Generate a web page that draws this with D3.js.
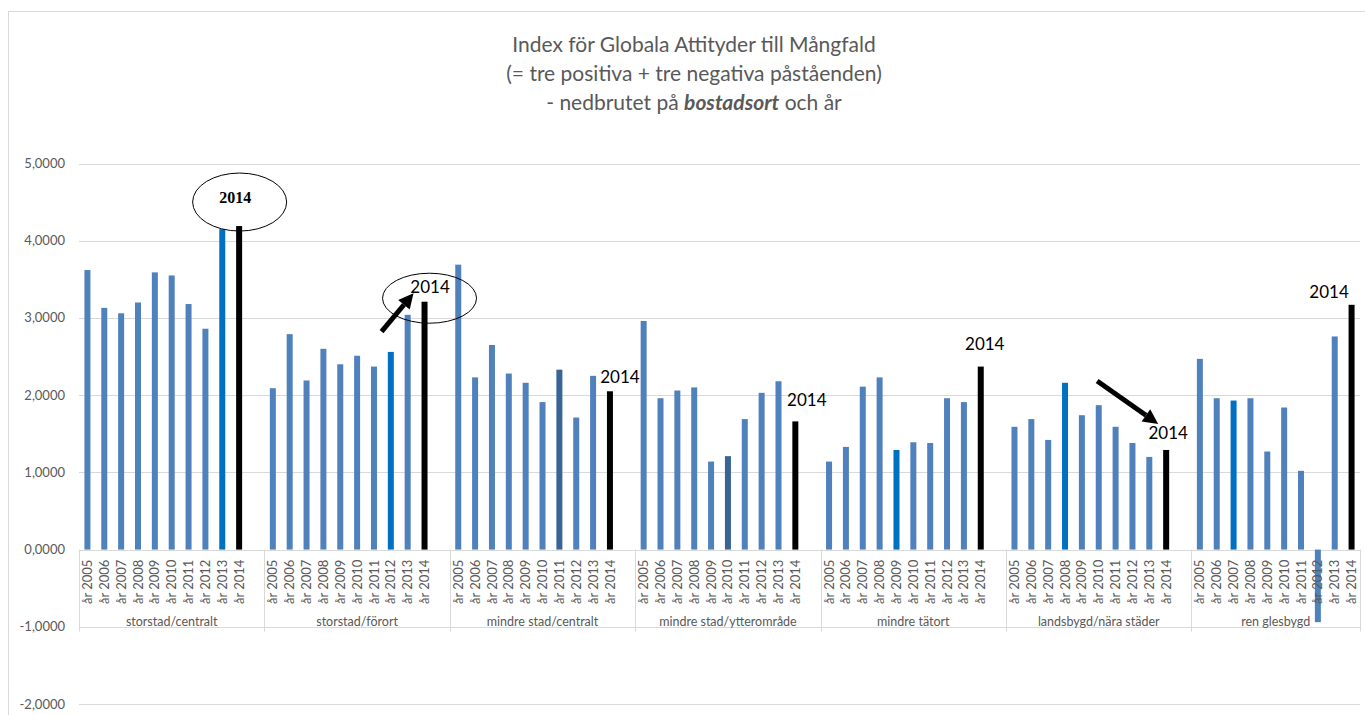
<html>
<head>
<meta charset="utf-8">
<script src="https://d3js.org/d3.v7.min.js"></script>
<style>
  body { margin: 0; background: #fff; }
  text { font-family: Lato, "Noto Sans", sans-serif; fill: #595959; }
</style>
</head>
<body>
<svg width="1365" height="715"></svg>
<script>
// categories
const groups = ['storstad/centralt', 'storstad/förort', 'mindre stad/centralt',
  'mindre stad/ytterområde', 'mindre tätort', 'landsbygd/nära städer', 'ren glesbygd'];
const years = ['år 2005', 'år 2006', 'år 2007', 'år 2008', 'år 2009',
  'år 2010', 'år 2011', 'år 2012', 'år 2013', 'år 2014'];
const yTicks = [-2, -1, 0, 1, 2, 3, 4, 5];

// index values per group, 2005..2014
const storstadCentralt = [3.62, 3.13, 3.06, 3.20, 3.59, 3.55, 3.18, 2.86, 4.15, 4.19];
const storstadFörort = [2.09, 2.79, 2.19, 2.60, 2.40, 2.51, 2.37, 2.56, 3.04, 3.21];
const mindreStadCentralt = [3.69, 2.23, 2.65, 2.28, 2.16, 1.91, 2.33, 1.71, 2.25, 2.05];
const mindreStadYtteromrade = [2.96, 1.96, 2.06, 2.10, 1.14, 1.21, 1.69, 2.03, 2.18, 1.66];
const mindreTatort = [1.14, 1.33, 2.11, 2.23, 1.29, 1.39, 1.38, 1.96, 1.91, 2.37];
const landsbygd = [1.59, 1.69, 1.42, 2.16, 1.74, 1.87, 1.59, 1.38, 1.20, 1.29];
const renGlesbygd = [2.47, 1.96, 1.93, 1.96, 1.27, 1.84, 1.02, -0.94, 2.76, 3.17];
const values = [storstadCentralt, storstadFörort, mindreStadCentralt,
  mindreStadYtteromrade, mindreTatort, landsbygd, renGlesbygd];

// the year that is drawn in another shade in each group
const highlightYear = ['år 2013', 'år 2012', 'år 2011', 'år 2010', 'år 2009', 'år 2008', 'år 2007'];

const svg = d3.select('svg');
const left = 79, right = 1360;

// chart frame
svg.append('rect').attr('x', 8.5).attr('y', 11.5).attr('width', 1400).attr('height', 800)
  .attr('fill', 'none').attr('stroke', '#d9d9d9');

// slots: 10 years per group plus a blank slot between groups
const slots = [];
groups.forEach((g, gi) => {
  years.forEach(yr => slots.push(g + '|' + yr));
  if (gi < groups.length - 1) slots.push(g + '|gap');
});
const x = d3.scaleBand().domain(slots).range([left, right]).padding(0);
const y = d3.scaleLinear().domain([-2, 5]).range([704, 163.5]);

const data = [];
groups.forEach((g, gi) => years.forEach((yr, yi) =>
  data.push({ group: g, gi: gi, year: yr, key: g + '|' + yr, value: values[gi][yi] })));

// gridlines
svg.append('g').selectAll('line').data(yTicks).join('line')
  .attr('x1', left).attr('x2', right)
  .attr('y1', d => Math.round(y(d)) + 0.5).attr('y2', d => Math.round(y(d)) + 0.5)
  .attr('stroke', '#d9d9d9').attr('stroke-width', 1);

// y axis labels
const fmt = d => d3.format('.4f')(d).replace('.', ',').replace('−', '-');
svg.append('g').selectAll('text').data(yTicks).join('text')
  .attr('x', 65).attr('y', d => y(d)).attr('dy', '0.35em')
  .attr('text-anchor', 'end').style('font-size', '13px').text(fmt);

// bars
const barColor = d => d.year === 'år 2014' ? '#000000'
  : d.year === highlightYear[d.gi] ? (d.gi === 2 || d.gi === 3 ? '#386496' : '#0070c0')
  : '#4f81bd';
svg.append('g').selectAll('rect').data(data).join('rect')
  .attr('x', d => x(d.key) + x.bandwidth() / 2 - 3)
  .attr('width', 6)
  .attr('y', d => y(Math.max(0, d.value)))
  .attr('height', d => Math.abs(y(d.value) - y(0)))
  .attr('fill', barColor);

// category axis: group separators
const y0 = y(0);
const seps = groups.map(g => x(g + '|år 2005')).concat([right]);
svg.append('g').selectAll('line').data(seps).join('line')
  .attr('x1', d => Math.round(d) + 0.5).attr('x2', d => Math.round(d) + 0.5)
  .attr('y1', y0).attr('y2', y0 + 82)
  .attr('stroke', '#d9d9d9');

// year labels
svg.append('g').selectAll('text').data(data).join('text')
  .attr('transform', d => `translate(${x(d.key) + x.bandwidth() / 2},${y0 + 10}) rotate(-90)`)
  .attr('text-anchor', 'end').attr('dy', '0.35em')
  .style('font-size', '13px').text(d => d.year);

// group labels
svg.append('g').selectAll('text').data(groups).join('text')
  .attr('x', (g, i) => (seps[i] + seps[i + 1]) / 2)
  .attr('y', y0 + 72).attr('dy', '0.35em')
  .attr('text-anchor', 'middle').style('font-size', '12.5px').text(g => g);

// title
const title = svg.append('text').attr('text-anchor', 'middle').style('font-size', '21px');
title.append('tspan').attr('x', 694).attr('y', 52).text('Index för Globala Attityder till Mångfald');
title.append('tspan').attr('x', 694).attr('y', 81).text('(= tre positiva + tre negativa påståenden)');
const l3 = title.append('tspan').attr('x', 694).attr('y', 109.5);
l3.append('tspan').text('- nedbrutet på ');
l3.append('tspan').style('font-weight', 'bold').style('font-style', 'italic').text('bostadsort');
l3.append('tspan').text(' och år');

// annotations, placed relative to each group's 2014 bar
const anchor = gi => {
  const d = data.find(e => e.gi === gi && e.year === 'år 2014');
  return [x(d.key) + x.bandwidth() / 2, y(d.value)];
};
const ann = svg.append('g');
function label(gi, dx, dy, serif) {
  const [ax, ay] = anchor(gi);
  const t = ann.append('text').attr('x', ax + dx).attr('y', ay + dy).attr('dy', '0.35em')
    .attr('text-anchor', 'middle').style('fill', '#000').text('2014');
  if (serif) t.style('font-family', '"Liberation Serif", serif').style('font-weight', 'bold').style('font-size', '16px');
  else t.style('font-size', '17px');
}
function ellipse(gi, dx, dy, rx, ry) {
  const [ax, ay] = anchor(gi);
  ann.append('ellipse').attr('cx', ax + dx).attr('cy', ay + dy).attr('rx', rx).attr('ry', ry)
    .attr('fill', 'none').attr('stroke', '#000').attr('stroke-width', 1);
}
function arrow(gi, x1, y1, x2, y2) {
  const [ax, ay] = anchor(gi);
  const sx = ax + x1, sy = ay + y1, ex = ax + x2, ey = ay + y2;
  const a = Math.atan2(ey - sy, ex - sx), len = 15, w = 7.5;
  const bx = ex - len * Math.cos(a), by = ey - len * Math.sin(a);
  ann.append('line').attr('x1', sx).attr('y1', sy).attr('x2', bx).attr('y2', by)
    .attr('stroke', '#000').attr('stroke-width', 5);
  ann.append('path').attr('fill', '#000').attr('d', d3.line()([
    [ex, ey],
    [bx + w * Math.sin(a), by - w * Math.cos(a)],
    [bx - w * Math.sin(a), by + w * Math.cos(a)]]));
}
ellipse(0, 0.5, -24, 47, 29);
label(0, -4, -29, true);
ellipse(1, 5, -3.5, 47, 25);
label(1, 5.5, -15);
arrow(1, -43, 30, -11, -8.5);
label(2, 10, -14);
label(3, 11.5, -21);
label(4, 4, -23);
arrow(5, -69, -69, -8, -26);
label(5, 2, -17);
label(6, -22.5, -13);
</script>
</body>
</html>
